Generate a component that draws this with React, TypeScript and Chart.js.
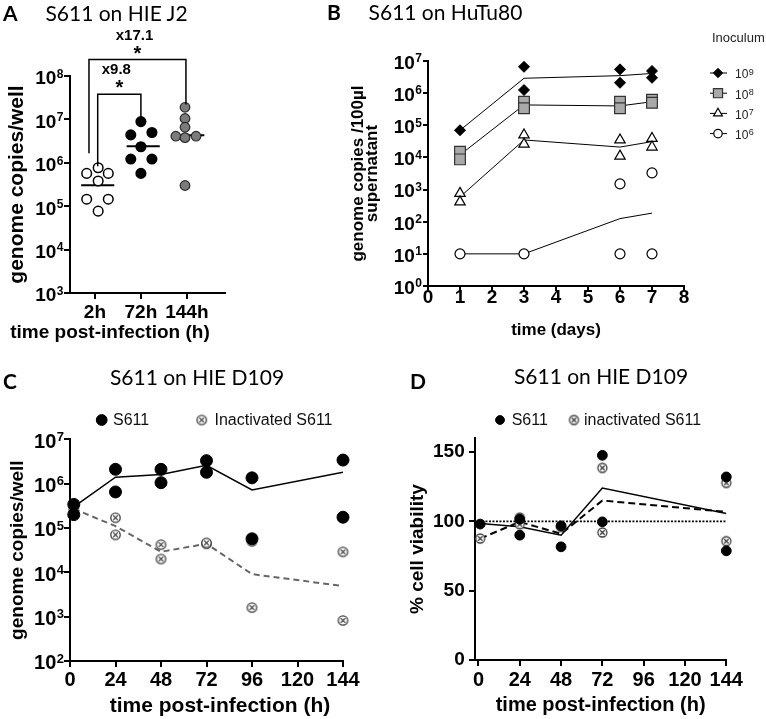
import React, { useEffect, useRef } from 'react';
import { Chart, registerables } from 'chart.js';
import { drawPoint } from 'chart.js/helpers';

Chart.register(...registerables);

const AX = "'Liberation Sans', Arial, Helvetica, sans-serif";
const TF = "Lato, 'Open Sans', sans-serif";
Chart.defaults.font.family = AX;
Chart.defaults.color = '#000';

// ---------------- Panel A : S611 on HIE J2 ----------------
const aCategories = ['2h', '72h', '144h'];
const aCategoryPos = [1, 2, 3];
const a2hX = [0.82, 1.07, 1.29, 1.07, 0.82, 1.29, 1.07];
const a2hY = [5.7e5, 7.7e5, 5.7e5, 3.8e5, 1.45e5, 1.45e5, 7.7e4];
const a72hX = [2.0, 1.78, 2.24, 2.0, 1.78, 2.24, 2.0];
const a72hY = [8.9e6, 4.4e6, 5.0e6, 2.34e6, 1.22e6, 1.22e6, 5.7e5];
const a144hX = [2.96, 2.96, 2.96, 2.76, 2.96, 3.2, 2.96];
const a144hY = [1.9e7, 1.05e7, 6.6e6, 4.1e6, 3.8e6, 4.1e6, 3.0e5];
const aMedianCenter = [1.06, 2.05, 3.02];
const aMedianY = [3.05e5, 2.4e6, 4.3e6];
const aYTicks = [1e3, 1e4, 1e5, 1e6, 1e7, 1e8];
const aBracketLabels = ['x9.8', 'x17.1'];
const aBracketLeftX = [1.06, 0.87];
const aBracketRightX = [2.0, 2.98];
const aBracketLeftY = [8.3e5, 1.67e6];
const aBracketRightY = [1.05e7, 2.2e7];
const aBracketTopY = [3.8e7, 2.4e8];

// ---------------- Panel B : S611 on HuTu80 ----------------
const bDays = [1, 3, 6, 7];
const bXTicks = [0, 1, 2, 3, 4, 5, 6, 7, 8];
const bYTicks = [1, 10, 1e2, 1e3, 1e4, 1e5, 1e6, 1e7];
const bInoculumExp = [9, 8, 7, 6];
const b9X = [1, 3, 3, 6, 6, 7, 7];
const b9Y = [7e4, 6.6e6, 1.25e6, 5.5e6, 2.1e6, 4.9e6, 3.0e6];
const b9Line = [7e4, 2.9e6, 3.5e6, 4.1e6];
const b8X = [1, 1, 3, 3, 6, 6, 7, 7];
const b8Y = [1.5e4, 8.7e3, 5.4e5, 3.4e5, 5.4e5, 3.4e5, 6.2e5, 5.0e5];
const b8Line = [1.2e4, 4.3e5, 4.0e5, 5.4e5];
const b7X = [1, 1, 3, 3, 6, 6, 7, 7];
const b7Y = [760, 415, 5.0e4, 2.6e4, 3.5e4, 1.1e4, 3.9e4, 2.1e4];
const b7Line = [590, 3.5e4, 2.1e4, 3.1e4];
const b6X = [1, 3, 6, 6, 7, 7];
const b6Y = [10, 10, 1.5e3, 10, 3.3e3, 10];
const b6Line = [10, 10, 125, 185];

// ---------------- Panel C : S611 on HIE D109 (genome copies) ----------------
const cTimes = [2, 24, 48, 72, 96, 144];
const cXTicks = [0, 24, 48, 72, 96, 120, 144];
const cYTicks = [1e2, 1e3, 1e4, 1e5, 1e6, 1e7];
const cLiveX = [2, 2, 24, 24, 48, 48, 72, 72, 96, 96, 144, 144];
const cLiveY = [3.4e5, 2.0e5, 2.1e6, 6.5e5, 2.1e6, 1.05e6, 3.3e6, 1.8e6, 1.35e6, 5.7e4, 3.4e6, 1.75e5];
const cLiveLine = [3.0e5, 1.4e6, 1.6e6, 2.6e6, 7.2e5, 1.8e6];
const cInactX = [2, 24, 24, 48, 48, 72, 72, 96, 96, 144, 144];
const cInactY = [2.6e5, 1.7e5, 7.0e4, 4.2e4, 2.0e4, 4.4e4, 4.6e4, 5.0e4, 1.6e3, 2.9e4, 8.2e2];
const cInactLine = [2.7e5, 1.1e5, 2.9e4, 4.4e4, 9.1e3, 4.9e3];

// ---------------- Panel D : S611 on HIE D109 (viability) ----------------
const dTimes = [1, 24, 48, 72, 144];
const dXTicks = [0, 24, 48, 72, 96, 120, 144];
const dYTicks = [0, 50, 100, 150];
const dLiveX = [1, 24, 24, 48, 48, 72, 72, 144, 144];
const dLiveY = [98, 101.5, 90, 96.7, 81.6, 147.6, 99.6, 132, 78.7];
const dLiveLine = [98.4, 96, 90, 124, 105.6];
const dInactX = [1, 24, 24, 48, 72, 72, 144, 144];
const dInactY = [87.6, 102.7, 97.9, 96, 138.5, 91.9, 127.7, 85.7];
const dInactLine = [87.6, 99.6, 91, 115, 106.8];
const dReferenceX = [0, 144];
const dReferenceY = [100, 100];

const MEDIAN_HALF = 0.36;

const pts = (xs: number[], ys: number[]) => xs.map((x, i) => ({ x, y: ys[i] }));

function drawSup(ctx: CanvasRenderingContext2D, base: string, exp: string, x: number, y: number,
  size: number, supSize: number, weight: string, align: 'left' | 'right') {
  ctx.font = `${weight} ${size}px ${AX}`;
  const bw = ctx.measureText(base).width;
  ctx.font = `${weight} ${supSize}px ${AX}`;
  const ew = ctx.measureText(exp).width;
  const x0 = align === 'right' ? x - bw - ew - 0.5 : x;
  const baseBaseline = y + 0.36 * size;
  const supBaseline = baseBaseline - 0.716 * size - 1.5 + 0.716 * supSize;
  ctx.textAlign = 'left';
  ctx.textBaseline = 'alphabetic';
  ctx.font = `${weight} ${size}px ${AX}`;
  ctx.fillText(base, x0, baseBaseline);
  ctx.font = `${weight} ${supSize}px ${AX}`;
  ctx.fillText(exp, x0 + bw + 0.5, supBaseline);
}

const supTicks = {
  id: 'supTicks',
  afterDraw(chart: any, _a: any, o: any) {
    const s = chart.scales.y;
    const ctx = chart.ctx as CanvasRenderingContext2D;
    ctx.save();
    ctx.fillStyle = '#000';
    s.ticks.forEach((t: any) => {
      const py = s.getPixelForValue(t.value);
      drawSup(ctx, '10', String(Math.round(Math.log10(t.value))), s.right - o.gap, py + o.dy, o.size, o.supSize, 'bold', 'right');
    });
    ctx.restore();
  },
};

const bracketPlugin = {
  id: 'brackets',
  afterDraw(chart: any) {
    const { x, y } = chart.scales;
    const ctx = chart.ctx as CanvasRenderingContext2D;
    ctx.save();
    ctx.strokeStyle = '#000';
    ctx.fillStyle = '#000';
    ctx.lineWidth = 1.5;
    aBracketLabels.forEach((label, i) => {
      const x1 = x.getPixelForValue(aBracketLeftX[i]);
      const x2 = x.getPixelForValue(aBracketRightX[i]);
      const y1 = y.getPixelForValue(aBracketLeftY[i]);
      const y2 = y.getPixelForValue(aBracketRightY[i]);
      const yt = y.getPixelForValue(aBracketTopY[i]);
      ctx.beginPath();
      ctx.moveTo(x1, y1);
      ctx.lineTo(x1, yt);
      ctx.lineTo(x2, yt);
      ctx.lineTo(x2, y2);
      ctx.stroke();
      const xm = (x1 + x2) / 2;
      ctx.textAlign = 'center';
      ctx.textBaseline = 'middle';
      ctx.font = `bold 15px ${AX}`;
      ctx.fillText(label, xm - 3, yt - 24);
      ctx.font = `bold 20px ${AX}`;
      ctx.fillText('*', xm, yt - 5.5);
    });
    ctx.restore();
  },
};

const inoculumLegend = {
  id: 'inoculumLegend',
  afterDraw(chart: any, _a: any, o: any) {
    const ctx = chart.ctx as CanvasRenderingContext2D;
    ctx.save();
    ctx.fillStyle = '#222';
    ctx.font = `13px ${AX}`;
    ctx.textAlign = 'left';
    ctx.textBaseline = 'middle';
    ctx.fillText('Inoculum', o.titleX, o.titleY);
    bInoculumExp.forEach((e, i) => {
      const ds = chart.data.datasets[i];
      const yy = o.y0 + i * o.dy;
      ctx.strokeStyle = '#000';
      ctx.lineWidth = 1;
      ctx.beginPath();
      ctx.moveTo(o.x - 8, yy);
      ctx.lineTo(o.x + 9, yy);
      ctx.stroke();
      ctx.fillStyle = ds.pointBackgroundColor;
      ctx.strokeStyle = ds.pointBorderColor;
      ctx.lineWidth = ds.pointBorderWidth;
      drawPoint(ctx, { pointStyle: ds.pointStyle, rotation: 0, radius: ds.pointRadius * 0.85, borderWidth: ds.pointBorderWidth } as any, o.x, yy);
      ctx.fillStyle = '#222';
      drawSup(ctx, '10', String(e), o.textX, yy + 1, 12, 9, 'normal', 'left');
    });
    ctx.restore();
  },
};

const inlineLegend = {
  id: 'inlineLegend',
  afterDraw(chart: any, _a: any, o: any) {
    const ctx = chart.ctx as CanvasRenderingContext2D;
    ctx.save();
    o.items.forEach((it: any) => {
      const ds = chart.data.datasets[it.ds];
      ctx.fillStyle = ds.pointBackgroundColor;
      ctx.strokeStyle = ds.pointBorderColor;
      ctx.lineWidth = ds.pointBorderWidth;
      drawPoint(ctx, { pointStyle: ds.pointStyle, rotation: 0, radius: ds.pointRadius * 0.9, borderWidth: ds.pointBorderWidth } as any, it.sx, o.y);
      ctx.fillStyle = '#111';
      ctx.font = `16px ${AX}`;
      ctx.textAlign = 'left';
      ctx.textBaseline = 'middle';
      ctx.fillText(ds.label, it.tx, o.y + 0.5);
    });
    ctx.restore();
  },
};

function crossCircle(r: number, color: string, lw: number) {
  const size = Math.ceil(2 * r + lw + 2);
  const c = document.createElement('canvas');
  c.width = size;
  c.height = size;
  const g = c.getContext('2d')!;
  const m = size / 2;
  g.fillStyle = '#fff';
  g.strokeStyle = color;
  g.lineWidth = lw;
  g.beginPath();
  g.arc(m, m, r, 0, Math.PI * 2);
  g.fill();
  g.stroke();
  const d = r * 0.5;
  g.beginPath();
  g.moveTo(m - d, m - d);
  g.lineTo(m + d, m + d);
  g.moveTo(m + d, m - d);
  g.lineTo(m - d, m + d);
  g.stroke();
  return c;
}

const axisStyle = (tickLength: number) => ({
  border: { display: true, color: '#000', width: 2 },
  grid: { display: true, drawOnChartArea: false, drawTicks: true, tickLength, color: '#000', lineWidth: 2 },
});

const setTicks = (vals: number[]) => (s: any) => { s.ticks = vals.map((value) => ({ value })); };

const baseOpts = {
  animation: false,
  responsive: false,
  events: [] as string[],
};

function configA(): any {
  const pb = { showLine: false, pointRadius: 4.8, pointBorderWidth: 1.5, pointBorderColor: '#000', clip: false, order: 0 };
  const medians = aMedianY.map((v, i) => ({
    label: 'median ' + aCategories[i],
    data: [{ x: aMedianCenter[i] - MEDIAN_HALF, y: v }, { x: aMedianCenter[i] + MEDIAN_HALF, y: v }],
    showLine: true, borderColor: '#000', borderWidth: 2, pointRadius: 0, order: 1, clip: false,
  }));
  return {
    type: 'scatter',
    data: {
      datasets: [
        { ...pb, label: '2h', data: pts(a2hX, a2hY), pointBackgroundColor: '#fff' },
        { ...pb, label: '72h', data: pts(a72hX, a72hY), pointBackgroundColor: '#000' },
        { ...pb, label: '144h', data: pts(a144hX, a144hY), pointBackgroundColor: '#7b7b7b', pointBorderColor: '#2a2a2a', pointBorderWidth: 1.2 },
        ...medians,
      ],
    },
    options: {
      ...baseOpts,
      layout: { padding: { left: 0, top: 76, right: 7, bottom: 7 } },
      plugins: { legend: { display: false }, tooltip: { enabled: false }, supTicks: { gap: 6.5, dy: 1.5, size: 19, supSize: 12 } },
      scales: {
        x: {
          type: 'linear', min: 0.457, max: 3.83, ...axisStyle(6),
          afterBuildTicks: setTicks(aCategoryPos),
          afterFit: (s: any) => { s.height = 50; },
          ticks: {
            autoSkip: false, maxRotation: 0, padding: 4.5, color: '#000',
            font: { size: 19, weight: 'bold', lineHeight: 1 },
            callback: (v: number) => aCategories[aCategoryPos.indexOf(v)] ?? '',
          },
        },
        y: {
          type: 'logarithmic', min: 1e3, max: 1e8, ...axisStyle(6),
          afterBuildTicks: setTicks(aYTicks),
          afterFit: (s: any) => { s.width = 70; },
          ticks: { callback: () => '' },
          title: { display: true, text: 'genome copies/well', color: '#000', font: { size: 21, weight: 'bold', lineHeight: 1.2 }, padding: { top: 5, bottom: 0 } },
        },
      },
    },
    plugins: [supTicks, bracketPlugin],
  };
}

function configB(): any {
  const pb = { showLine: false, clip: false, order: 0 };
  const lb = { showLine: true, borderColor: '#000', borderWidth: 1, pointRadius: 0, order: 1, clip: false };
  return {
    type: 'scatter',
    data: {
      datasets: [
        { ...pb, label: '10^9', data: pts(b9X, b9Y), pointStyle: 'rectRot', pointRadius: 5.5, pointBackgroundColor: '#000', pointBorderColor: '#000', pointBorderWidth: 1 },
        { ...pb, label: '10^8', data: pts(b8X, b8Y), pointStyle: 'rect', pointRadius: 7.6, pointBackgroundColor: '#a9a9a9', pointBorderColor: '#333', pointBorderWidth: 1.2 },
        { ...pb, label: '10^7', data: pts(b7X, b7Y), pointStyle: 'triangle', pointRadius: 6, pointBackgroundColor: '#fff', pointBorderColor: '#000', pointBorderWidth: 1.2 },
        { ...pb, label: '10^6', data: pts(b6X, b6Y), pointStyle: 'circle', pointRadius: 5, pointBackgroundColor: '#fff', pointBorderColor: '#000', pointBorderWidth: 1.2 },
        { ...lb, label: 'mean 10^9', data: pts(bDays, b9Line) },
        { ...lb, label: 'mean 10^8', data: pts(bDays, b8Line) },
        { ...lb, label: 'mean 10^7', data: pts(bDays, b7Line) },
        { ...lb, label: 'mean 10^6', data: pts(bDays, b6Line) },
      ],
    },
    options: {
      ...baseOpts,
      layout: { padding: { left: 0, top: 61, right: 82, bottom: 5 } },
      plugins: {
        legend: { display: false }, tooltip: { enabled: false },
        supTicks: { gap: 6, dy: 1, size: 19, supSize: 12 },
        inoculumLegend: { titleX: 480, titleY: 38, x: 486, textX: 503, y0: 73, dy: 20.2 },
      },
      scales: {
        x: {
          type: 'linear', min: 0, max: 8, ...axisStyle(5),
          afterBuildTicks: setTicks(bXTicks),
          afterFit: (s: any) => { s.height = 59; },
          ticks: { autoSkip: false, maxRotation: 0, padding: -2.5, color: '#000', font: { size: 19, weight: 'bold', lineHeight: 1 } },
          title: { display: true, text: 'time (days)', color: '#000', font: { size: 17, weight: 'bold', lineHeight: 1.2 }, padding: { top: 0, bottom: 4 } },
        },
        y: {
          type: 'logarithmic', min: 1, max: 1e7, ...axisStyle(5),
          afterBuildTicks: setTicks(bYTicks),
          afterFit: (s: any) => { s.width = 196; },
          ticks: { callback: () => '' },
          title: { display: true, text: ['genome copies /100µl', 'supernatant'], color: '#000', font: { size: 17, weight: 'bold', lineHeight: 0.85 }, padding: { top: 118.8, bottom: 0 } },
        },
      },
    },
    plugins: [supTicks, inoculumLegend],
  };
}

function configC(): any {
  const cross = crossCircle(4.7, '#3a3a3a', 1.3);
  return {
    type: 'scatter',
    data: {
      datasets: [
        { label: 'S611', data: pts(cLiveX, cLiveY), showLine: false, pointStyle: 'circle', pointRadius: 6, pointBackgroundColor: '#000', pointBorderColor: '#000', pointBorderWidth: 1, order: 0, clip: false },
        { label: 'Inactivated S611', data: pts(cInactX, cInactY), showLine: false, pointStyle: cross, pointRadius: 4.7, pointBackgroundColor: '#fff', pointBorderColor: '#3a3a3a', pointBorderWidth: 1.3, order: 1, clip: false },
        { label: 'S611 mean', data: pts(cTimes, cLiveLine), showLine: true, borderColor: '#000', borderWidth: 1.5, pointRadius: 0, order: 2 },
        { label: 'Inactivated mean', data: pts(cTimes, cInactLine), showLine: true, borderColor: '#666', borderWidth: 2, borderDash: [6, 4], pointRadius: 0, order: 3 },
      ],
    },
    options: {
      ...baseOpts,
      layout: { padding: { left: 0, top: 84.3, right: 40, bottom: 2 } },
      plugins: {
        legend: { display: false }, tooltip: { enabled: false },
        supTicks: { gap: 6, dy: 1, size: 20, supSize: 13 },
        inlineLegend: { y: 65, items: [{ ds: 0, sx: 101.7, tx: 113 }, { ds: 1, sx: 201.7, tx: 214.5 }] },
      },
      scales: {
        x: {
          type: 'linear', min: 0, max: 144, ...axisStyle(6),
          afterBuildTicks: setTicks(cXTicks),
          afterFit: (s: any) => { s.height = 56; },
          ticks: { autoSkip: false, maxRotation: 0, padding: 3.8, color: '#000', font: { size: 20, weight: 'bold', lineHeight: 1 } },
        },
        y: {
          type: 'logarithmic', min: 1e2, max: 1e7, ...axisStyle(6),
          afterBuildTicks: setTicks(cYTicks),
          afterFit: (s: any) => { s.width = 70; },
          ticks: { callback: () => '' },
          title: { display: true, text: 'genome copies/well', color: '#000', font: { size: 19, weight: 'bold', lineHeight: 1.2 }, padding: { top: 6, bottom: 0 } },
        },
      },
    },
    plugins: [supTicks, inlineLegend],
  };
}

function configD(): any {
  const cross = crossCircle(4.5, '#3a3a3a', 1.3);
  return {
    type: 'scatter',
    data: {
      datasets: [
        { label: 'S611', data: pts(dLiveX, dLiveY), showLine: false, pointStyle: 'circle', pointRadius: 4.9, pointBackgroundColor: '#000', pointBorderColor: '#000', pointBorderWidth: 1, order: 0, clip: false },
        { label: 'inactivated S611', data: pts(dInactX, dInactY), showLine: false, pointStyle: cross, pointRadius: 4.5, pointBackgroundColor: '#fff', pointBorderColor: '#3a3a3a', pointBorderWidth: 1.3, order: 1, clip: false },
        { label: 'S611 mean', data: pts(dTimes, dLiveLine), showLine: true, borderColor: '#000', borderWidth: 1.5, pointRadius: 0, order: 2 },
        { label: 'inactivated mean', data: pts(dTimes, dInactLine), showLine: true, borderColor: '#000', borderWidth: 2, borderDash: [7, 4], pointRadius: 0, order: 3 },
        { label: '100%', data: pts(dReferenceX, dReferenceY), showLine: true, borderColor: '#000', borderWidth: 1.8, borderDash: [2, 1.5], pointRadius: 0, order: 4 },
      ],
    },
    options: {
      ...baseOpts,
      layout: { padding: { left: 0, top: 83.1, right: 39.7, bottom: 2 } },
      plugins: {
        legend: { display: false }, tooltip: { enabled: false },
        inlineLegend: { y: 65, items: [{ ds: 0, sx: 117, tx: 128.7 }, { ds: 1, sx: 191, tx: 201 }] },
      },
      scales: {
        x: {
          type: 'linear', min: -2, max: 144, ...axisStyle(6),
          afterBuildTicks: setTicks(dXTicks),
          afterFit: (s: any) => { s.height = 57; },
          ticks: { autoSkip: false, maxRotation: 0, padding: 4.3, color: '#000', font: { size: 20, weight: 'bold', lineHeight: 1 } },
          title: { display: true, text: 'time post-infection (h)', color: '#000', font: { size: 20, weight: 'bold', lineHeight: 1.2 }, padding: { top: 0, bottom: 0 } },
        },
        y: {
          type: 'linear', min: 0, max: 160, ...axisStyle(6),
          afterBuildTicks: setTicks(dYTicks),
          afterFit: (s: any) => { s.width = 92; },
          ticks: { autoSkip: false, padding: 4.3, color: '#000', font: { size: 19, weight: 'bold', lineHeight: 1 } },
          title: { display: true, text: '% cell viability', color: '#000', font: { size: 19, weight: 'bold', lineHeight: 1.2 }, padding: { top: 23.6, bottom: 0 } },
        },
      },
    },
    plugins: [inlineLegend],
  };
}

function ChartBox({ left, top, width, height, build }: { left: number; top: number; width: number; height: number; build: () => any }) {
  const ref = useRef<HTMLCanvasElement>(null);
  useEffect(() => {
    const chart = new Chart(ref.current as HTMLCanvasElement, build());
    return () => chart.destroy();
  }, []);
  return (
    <div style={{ position: 'absolute', left, top, width, height }}>
      <canvas ref={ref} width={width} height={height} style={{ width, height, display: 'block' }} />
    </div>
  );
}

function Label({ x, y, text, size, bold, family, align = 'center' }: { x: number; y: number; text: string; size: number; bold?: boolean; family: string; align?: 'center' | 'left' }) {
  const H = size * 2;
  const style: React.CSSProperties = {
    position: 'absolute', top: y - H / 2, height: H, lineHeight: `${H}px`, fontSize: size,
    fontWeight: bold ? 700 : 400, fontFamily: family, whiteSpace: 'nowrap', color: '#000',
  };
  if (align === 'center') { style.left = x - 200; style.width = 400; style.textAlign = 'center'; } else { style.left = x; }
  return <div style={style}>{text}</div>;
}

export default function App() {
  return (
    <div style={{ position: 'absolute', left: 0, top: 0, width: 766, height: 719, background: '#fff', overflow: 'hidden' }}>
      <ChartBox left={0} top={0} width={232} height={350} build={configA} />
      <ChartBox left={232} top={0} width={534} height={350} build={configB} />
      <ChartBox left={0} top={355} width={383} height={364} build={configC} />
      <ChartBox left={383} top={355} width={383} height={364} build={configD} />
      <Label x={3} y={12.5} text="A" size={21} bold family={TF} align="left" />
      <Label x={116.5} y={12.5} text="S611 on HIE J2" size={21} family={TF} />
      <Label x={327} y={11.7} text="B" size={21} bold family={TF} align="left" />
      <Label x={445.5} y={11.7} text="S611 on HuTu80" size={21} family={TF} />
      <Label x={3} y={381} text="C" size={21} bold family={TF} align="left" />
      <Label x={197} y={376.5} text="S611 on HIE D109" size={21} family={TF} />
      <Label x={410} y={381} text="D" size={21} bold family={TF} align="left" />
      <Label x={601} y={375.5} text="S611 on HIE D109" size={21} family={TF} />
      <Label x={110} y={332} text="time post-infection (h)" size={19} bold family={AX} />
      <Label x={220} y={705} text="time post-infection (h)" size={21} bold family={AX} />
    </div>
  );
}
